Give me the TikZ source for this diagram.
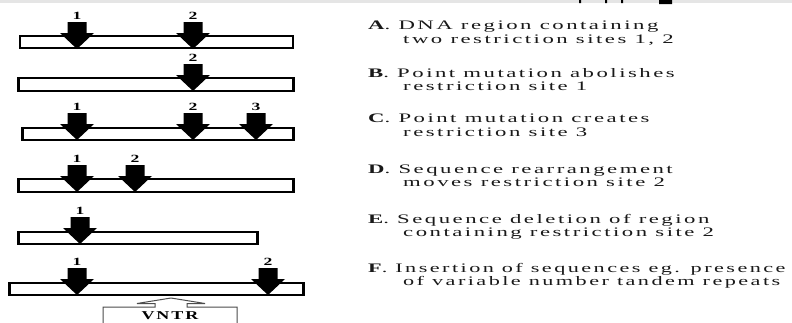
\documentclass[tikz,border=0pt]{standalone}
\usepackage{fontspec}
\usepackage{graphicx}
\newfontfamily\dfont[LetterSpace=11]{Liberation Serif}
\newfontfamily\nfont{Liberation Serif}
\newcommand\wideText[1]{\scalebox{1.75}[1]{#1}}
\newcommand\narrowText[1]{\scalebox{1.71}[1]{#1}}
\newcommand\siteArrow[4]{% name, x, tip y, label
  \fill[black] (#2-9.5,#3-27) -- (#2+9.5,#3-27) -- (#2+9.5,#3-16) -- (#2+17,#3-16)
     -- (#2,#3) -- (#2-17,#3-16) -- (#2-9.5,#3-16) -- cycle;
  \node[numlab] (#1) at (#2,#3-30) {\scalebox{1.6}[1]{#4}};
}
\newcommand\dnaBar[5]{% name, x1, y1, x2, y2
  \node[barbox, minimum width={(#4-#2)*1pt}, minimum height={(#5-#3)*1pt}] (#1) at ({(#2+#4)/2},{(#3+#5)/2}) {};
  \draw[line width=2pt] (#1.north west) -- (#1.south west) (#1.north east) -- (#1.south east);
}
\tikzset{
  barbox/.style={draw=black, fill=white, line width=1.1pt, inner sep=0pt, rectangle},
  numlab/.style={font=\nfont\bfseries\fontsize{11}{12}\selectfont, inner sep=0pt, anchor=base},
  txt/.style={font=\dfont\fontsize{13}{15}\selectfont, inner sep=0pt, anchor=base west, text=black!90},
}
\begin{document}
\begin{tikzpicture}[x=1pt,y=-1pt]
\useasboundingbox (0,0) rectangle (792,322);
\clip (0,0) rectangle (792,322);
\fill[white] (0,0) rectangle (792,322);
% top strip
\fill[black!10] (0,0) rectangle (792,2.5);
\fill[black] (579,0) rectangle (581,3) (605,0) rectangle (607,3) (621,0) rectangle (623,3) (659,0) rectangle (672,4);
% A
\dnaBar{barA}{20.7}{36}{292.7}{48}
\siteArrow{a1}{77}{49}{1}
\siteArrow{a2}{193}{49}{2}
% B
\dnaBar{barB}{19}{78}{293}{91}
\siteArrow{b2}{193}{91}{2}
% C
\dnaBar{barC}{23}{128}{293}{140}
\siteArrow{c1}{77}{140}{1}
\siteArrow{c2}{193}{140}{2}
\siteArrow{c3}{256}{140}{3}
% D
\dnaBar{barD}{19}{179}{293}{192}
\siteArrow{d1}{77}{192}{1}
\siteArrow{d2}{135}{192}{2}
% E
\dnaBar{barE}{19}{232}{257}{244}
\siteArrow{e1}{80}{244}{1}
% F
\dnaBar{barF}{10}{283}{303}{295}
\siteArrow{f1}{77}{295}{1}
\siteArrow{f2}{268}{295}{2}
% VNTR
\draw[black!70, line width=1pt] (103,340) -- (103,307) -- (155,307) -- (155,303.5) -- (137,303.5) -- (171,298)
   -- (205,303.5) -- (187,303.5) -- (187,307) -- (237,307) -- (237,340);
\node[font=\dfont\bfseries\fontsize{12}{14}\selectfont, inner sep=0pt, anchor=base] (vntr) at (170,319) {\scalebox{1.5}[1]{VNTR}};
% texts
\node[txt] (tA1) at (368,29) {\wideText{\textbf{A}. DNA region containing}};
\node[txt] (tA2) at (403,43) {\wideText{two restriction sites 1, 2}};
\node[txt] (tB1) at (368,77) {\wideText{\textbf{B}. Point mutation abolishes}};
\node[txt] (tB2) at (403,90) {\wideText{restriction site 1}};
\node[txt] (tC1) at (368,122) {\wideText{\textbf{C}. Point mutation creates}};
\node[txt] (tC2) at (403,136) {\wideText{restriction site 3}};
\node[txt] (tD1) at (368,173) {\wideText{\textbf{D}. Sequence rearrangement}};
\node[txt] (tD2) at (403,186) {\wideText{moves restriction site 2}};
\node[txt] (tE1) at (368,223) {\wideText{\textbf{E}. Sequence deletion of region}};
\node[txt] (tE2) at (403,236) {\wideText{containing restriction site 2}};
\node[txt] (tF1) at (368,272) {\narrowText{\textbf{F}. Insertion of sequences eg. presence}};
\node[txt] (tF2) at (403,285) {\narrowText{of variable number tandem repeats}};
\end{tikzpicture}
\end{document}
